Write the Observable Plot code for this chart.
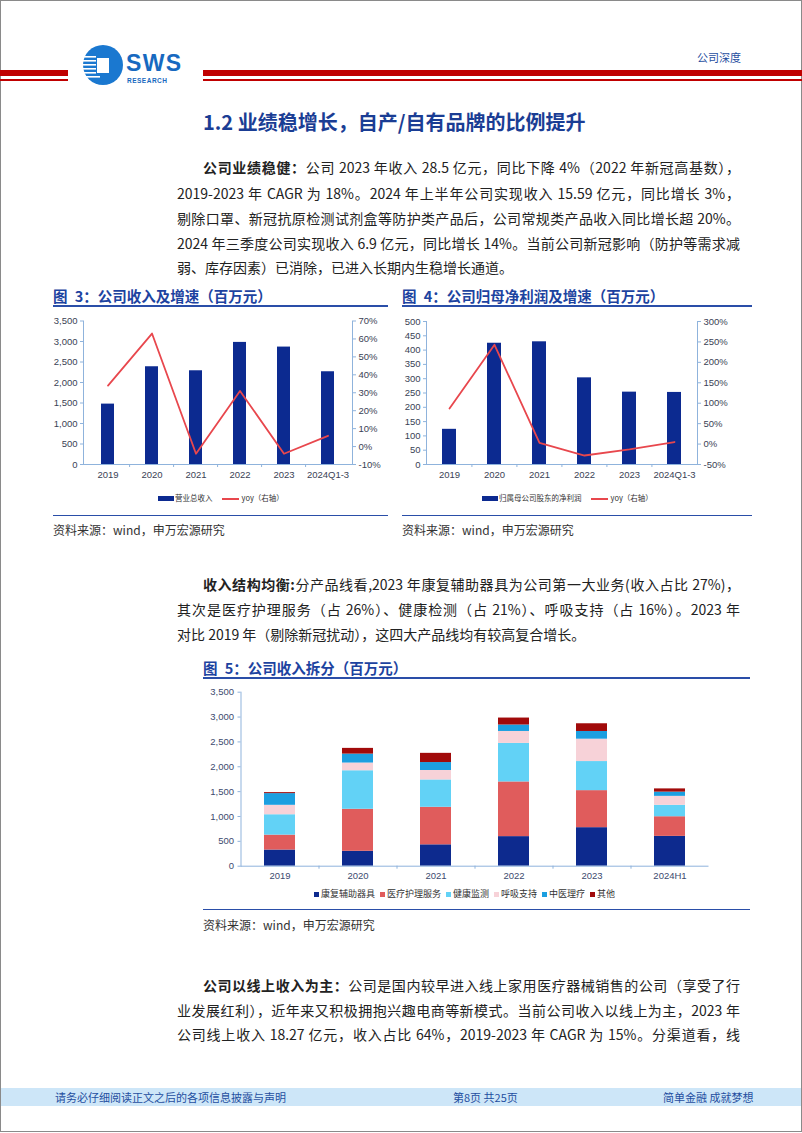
<!DOCTYPE html>
<html><head><meta charset="utf-8">
<script src="https://cdn.jsdelivr.net/npm/d3@7"></script>
<script src="https://cdn.jsdelivr.net/npm/@observablehq/plot@0.6"></script>
<style>
html,body{margin:0;padding:0;background:#fff;}
#page{position:relative;width:802px;height:1133px;overflow:hidden;background:#fff;font-family:"Noto Sans CJK SC","Noto Sans",sans-serif;}
.abs{position:absolute;}
.line{position:absolute;left:177px;width:563px;font-size:14px;color:#222;white-space:nowrap;text-align:justify;text-align-last:justify;line-height:20px;}
.line.last{text-align-last:left;}
.line.ind{left:203px;width:537px;}
.figt{position:absolute;font-size:14.5px;font-weight:bold;color:#1d43a0;white-space:nowrap;line-height:18px;word-spacing:4px;}
.src{position:absolute;font-size:12px;color:#333;white-space:nowrap;line-height:16px;}
.hr{position:absolute;background:#2a4ea8;}
.leg{position:absolute;font-size:7.5px;color:#333;white-space:nowrap;line-height:12px;font-family:"Noto Sans CJK SC",sans-serif;}
.leg5{font-size:9px;}
.leg span.sw{display:inline-block;vertical-align:middle;}
</style></head>
<body><div id="page">
<div class="abs" style="left:0;top:0;width:800px;height:1130px;border:1px solid #8a8a8a;"></div>
<!-- header -->
<div class="abs" style="left:0;top:70px;width:68px;height:6px;background:#c00000"></div>
<div class="abs" style="left:0;top:79px;width:68px;height:1.5px;background:#c00000"></div>
<div class="abs" style="left:203px;top:70px;width:599px;height:6px;background:#c00000"></div>
<div class="abs" style="left:203px;top:79px;width:599px;height:1.5px;background:#c00000"></div>
<svg class="abs" style="left:80px;top:42px" width="110" height="48" viewBox="80 42 110 48">
 <circle cx="103" cy="65" r="20" fill="#1a78d0"/>
 <rect x="97" y="58" width="12" height="15" fill="#fff"/>
 <g fill="#fff"><rect x="84" y="56" width="12" height="1.6"/><rect x="83" y="60" width="13" height="1.6"/><rect x="83" y="64" width="13" height="1.6"/><rect x="83" y="68" width="13" height="1.6"/><rect x="84" y="72" width="12" height="1.6"/><rect x="86" y="76" width="14" height="1.6"/></g>
 <text x="126" y="71" font-family="Liberation Sans,Arial" font-weight="bold" font-size="23" fill="#1769c0" textLength="55">SWS</text>
 <text x="127" y="83" font-family="Liberation Sans,Arial" font-weight="bold" font-size="6.5" fill="#1769c0" textLength="40">RESEARCH</text>
</svg>
<div class="abs" style="left:697px;top:49px;font-size:11px;color:#1f4ea0;white-space:nowrap">公司深度</div>
<div class="abs" style="left:203px;top:108px;font-size:20px;font-weight:bold;color:#1a3d94;white-space:nowrap;line-height:28px">1.2 业绩稳增长，自产/自有品牌的比例提升</div>

<!-- paragraph 1 -->
<div class="line ind" style="top:157px"><b>公司业绩稳健：</b>公司 2023 年收入 28.5 亿元，同比下降 4%（2022 年新冠高基数），</div>
<div class="line" style="top:183px">2019-2023 年 CAGR 为 18%。2024 年上半年公司实现收入 15.59 亿元，同比增长 3%，</div>
<div class="line" style="top:208px">剔除口罩、新冠抗原检测试剂盒等防护类产品后，公司常规类产品收入同比增长超 20%。</div>
<div class="line" style="top:233px">2024 年三季度公司实现收入 6.9 亿元，同比增长 14%。当前公司新冠影响（防护等需求减</div>
<div class="line last" style="top:257px">弱、库存因素）已消除，已进入长期内生稳增长通道。</div>

<!-- figure 3/4 titles -->
<div class="figt" style="left:53px;top:287px">图 3：公司收入及增速（百万元）</div>
<div class="hr" style="left:53px;top:305px;width:335px;height:1.5px"></div>
<div class="figt" style="left:402px;top:287px">图 4：公司归母净利润及增速（百万元）</div>
<div class="hr" style="left:402px;top:305px;width:350px;height:1.5px"></div>
<div id="c3" class="abs" style="left:53px;top:310px"></div>
<div id="c4" class="abs" style="left:402px;top:310px"></div>
<div id="l3" class="leg" style="left:158px;top:492px"></div>
<div id="l4" class="leg" style="left:482px;top:492px"></div>
<div class="hr" style="left:53px;top:515px;width:335px;height:1px"></div>
<div class="hr" style="left:402px;top:515px;width:350px;height:1px"></div>
<div class="src" style="left:53px;top:522px">资料来源：wind，申万宏源研究</div>
<div class="src" style="left:402px;top:522px">资料来源：wind，申万宏源研究</div>

<!-- paragraph 2 -->
<div class="line ind" style="top:574px"><b>收入结构均衡:</b>分产品线看,2023 年康复辅助器具为公司第一大业务(收入占比 27%)，</div>
<div class="line" style="top:599px">其次是医疗护理服务（占 26%）、健康检测（占 21%）、呼吸支持（占 16%）。2023 年</div>
<div class="line last" style="top:624px">对比 2019 年（剔除新冠扰动），这四大产品线均有较高复合增长。</div>

<!-- figure 5 -->
<div class="figt" style="left:203px;top:659px">图 5：公司收入拆分（百万元）</div>
<div class="hr" style="left:203px;top:677px;width:547px;height:1.5px"></div>
<div id="c5" class="abs" style="left:203px;top:680px"></div>
<div id="l5" class="leg leg5" style="left:314px;top:888px"></div>
<div class="hr" style="left:203px;top:909px;width:547px;height:1px"></div>
<div class="src" style="left:203px;top:917px">资料来源：wind，申万宏源研究</div>

<!-- paragraph 3 -->
<div class="line ind" style="top:975px"><b>公司以线上收入为主：</b>公司是国内较早进入线上家用医疗器械销售的公司（享受了行</div>
<div class="line" style="top:1000px">业发展红利），近年来又积极拥抱兴趣电商等新模式。当前公司收入以线上为主，2023 年</div>
<div class="line" style="top:1024px">公司线上收入 18.27 亿元，收入占比 64%，2019-2023 年 CAGR 为 15%。分渠道看，线</div>

<!-- footer -->
<div class="abs" style="left:1px;top:1088px;width:800px;height:18px;background:#cde6f8"></div>
<div class="abs" style="left:55px;top:1089px;font-size:11px;color:#1f4ea0;white-space:nowrap;line-height:16px">请务必仔细阅读正文之后的各项信息披露与声明</div>
<div class="abs" style="left:453px;top:1089px;font-size:11px;color:#1f4ea0;white-space:nowrap;line-height:16px">第8页 共25页</div>
<div class="abs" style="left:663px;top:1089px;font-size:11px;color:#1f4ea0;white-space:nowrap;line-height:16px">简单金融 成就梦想</div>
</div>

<script>
// ---------- data ----------
const years34 = ["2019", "2020", "2021", "2022", "2023", "2024Q1-3"];
const revenue = [1473, 2384, 2286, 2978, 2864, 2262];
const revenueYoy = [34, 63, -4, 31, -4, 6];
const revTicks = [0, 500, 1000, 1500, 2000, 2500, 3000, 3500];
const revYoyTicks = [-10, 0, 10, 20, 30, 40, 50, 60, 70];

const profit = [123, 424, 429, 303, 253, 252];
const profitYoy = [87, 243, 3, -28, -13, 5];
const profitTicks = [0, 50, 100, 150, 200, 250, 300, 350, 400, 450, 500];
const profitYoyTicks = [-50, 0, 50, 100, 150, 200, 250, 300];

const years5 = ["2019", "2020", "2021", "2022", "2023", "2024H1"];
const cats5 = ["康复辅助器具", "医疗护理服务", "健康监测", "呼吸支持", "中医理疗", "其他"];
const rehab = [325, 300, 430, 595, 775, 600];
const nursing = [300, 845, 755, 1100, 745, 395];
const monitor = [410, 775, 550, 775, 585, 230];
const respir = [190, 155, 190, 240, 450, 180];
const tcm = [235, 180, 160, 130, 155, 85];
const other = [20, 115, 185, 140, 155, 65];
const seg5 = [rehab, nursing, monitor, respir, tcm, other];
const ticks5 = [0, 500, 1000, 1500, 2000, 2500, 3000, 3500];

const navy = "#0c2a90";
const red = "#e8474d";
const axisBlue = "#8fb3dc";
const colors5 = ["#0d2a8e", "#e05c5c", "#62d2f6", "#f7d2d8", "#1c9fe0", "#a10a0a"];

const tickFont = '"Liberation Sans Narrow","Liberation Sans",Arial,sans-serif';

function dualChart({el, years, bars, yoy, leftTicks, rightTicks, width, height, ml, mr, mt, mb, leftFmt}) {
  const L0 = leftTicks[0], L1 = leftTicks[leftTicks.length - 1];
  const R0 = rightTicks[0], R1 = rightTicks[rightTicks.length - 1];
  const toL = v => L0 + (v - R0) / (R1 - R0) * (L1 - L0);
  const toR = u => R0 + (u - L0) / (L1 - L0) * (R1 - R0);
  const data = years.map((y, i) => ({year: y, v: bars[i], yoy: yoy[i]}));
  const step = (width - ml - mr) / years.length;
  const chart = Plot.plot({
    width, height, marginLeft: ml, marginRight: mr, marginTop: mt, marginBottom: mb,
    style: {fontFamily: tickFont, fontSize: "9.5px", color: "#3a3f55", background: "transparent"},
    x: {domain: years, paddingInner: 0.7, paddingOuter: 0.35, axis: null},
    y: {domain: [L0, L1], axis: null},
    marks: [
      Plot.barY(data, {x: "year", y: "v", fill: navy}),
      Plot.line(data, {x: "year", y: d => toL(d.yoy), stroke: red, strokeWidth: 1.8}),
      Plot.ruleY([L0], {stroke: axisBlue}),
      Plot.frame({anchor: "left", stroke: axisBlue}),
      Plot.frame({anchor: "right", stroke: axisBlue}),
      Plot.axisY({anchor: "left", ticks: leftTicks, tickFormat: leftFmt, tickSize: 3, tickPadding: 3, stroke: axisBlue, fill: "#3a3f55", label: null}),
      Plot.axisY({anchor: "right", ticks: rightTicks.map(toL), tickFormat: u => Math.round(toR(u)) + "%", tickSize: 3, tickPadding: 3, stroke: axisBlue, fill: "#3a3f55", label: null}),
      Plot.axisX({ticks: years.slice(1), tickSize: 3, tickFormat: () => "", dx: -step / 2, stroke: axisBlue, label: null}),
      Plot.axisX({tickSize: 0, tickPadding: 7, fill: "#3a3f55", label: null})
    ]
  });
  document.getElementById(el).appendChild(chart);
}

dualChart({el: "c3", years: years34, bars: revenue, yoy: revenueYoy, leftTicks: revTicks, rightTicks: revYoyTicks,
  width: 335, height: 178, ml: 30, mr: 36, mt: 10.5, mb: 24, leftFmt: d3.format(",")});
dualChart({el: "c4", years: years34, bars: profit, yoy: profitYoy, leftTicks: profitTicks, rightTicks: profitYoyTicks,
  width: 350, height: 178, ml: 24, mr: 55, mt: 11, mb: 24, leftFmt: d => String(d)});

// legends 3/4
function dualLegend(el, label) {
  document.getElementById(el).innerHTML =
    `<span class="sw" style="width:16px;height:5px;background:${navy};margin-right:1px"></span>${label}` +
    `<span class="sw" style="width:17px;height:1.8px;background:${red};margin:0 3px 0 9px"></span>yoy（右轴）`;
}
dualLegend("l3", "营业总收入");
dualLegend("l4", "归属母公司股东的净利润");

// stacked chart 5
const data5 = [];
years5.forEach((y, i) => cats5.forEach((c, j) => data5.push({year: y, cat: c, value: seg5[j][i]})));
const w5 = 547, ml5 = 37.5, mr5 = 41.5;
const step5 = (w5 - ml5 - mr5) / years5.length;
const chart5 = Plot.plot({
  width: w5, height: 205, marginLeft: ml5, marginRight: mr5, marginTop: 11.7, marginBottom: 19.3,
  style: {fontFamily: '"Liberation Sans",Arial,sans-serif', fontSize: "9.5px", color: "#3c4a6e", background: "transparent"},
  x: {domain: years5, paddingInner: 0.6, paddingOuter: 0.3, axis: null},
  y: {domain: [0, 3500], axis: null},
  color: {domain: cats5, range: colors5},
  marks: [
    Plot.barY(data5, {x: "year", y: "value", fill: "cat"}),
    Plot.ruleY([0], {stroke: axisBlue}),
    Plot.frame({anchor: "left", stroke: axisBlue}),
    Plot.axisY({anchor: "left", ticks: ticks5, tickFormat: d3.format(","), tickSize: 3, tickPadding: 4, stroke: axisBlue, fill: "#3c4a6e", label: null}),
    Plot.axisX({ticks: years5.slice(1), tickSize: 3, tickFormat: () => "", dx: -step5 / 2, stroke: axisBlue, label: null}),
    Plot.axisX({tickSize: 0, tickPadding: 6, fill: "#3c4a6e", label: null})
  ]
});
document.getElementById("c5").appendChild(chart5);
document.getElementById("l5").innerHTML = cats5.map((c, i) =>
  `<span class="sw" style="width:5px;height:5px;background:${colors5[i]};margin-right:2px"></span><span style="margin-right:5px">${c}</span>`).join("");
</script>
</body></html>
